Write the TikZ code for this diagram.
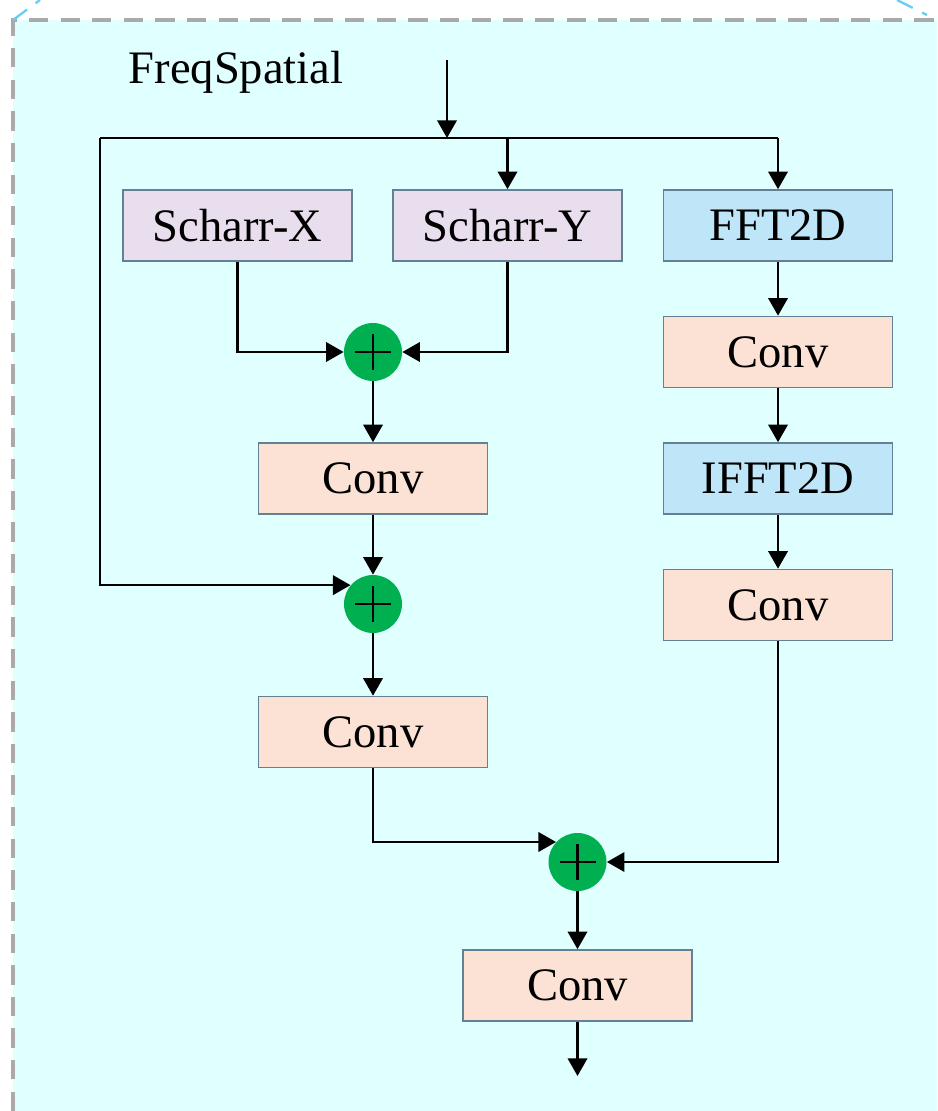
\documentclass[tikz,border=0pt]{standalone}
\usepackage{fontspec}
\setmainfont{Liberation Serif}
\usepackage{tikz}
\usetikzlibrary{arrows.meta,calc,positioning}
\definecolor{bgcyan}{RGB}{224,255,255}
\definecolor{edgegray}{RGB}{170,170,170}
\definecolor{boxedge}{RGB}{100,128,148}
\definecolor{scharrfill}{RGB}{233,222,238}
\definecolor{fftfill}{RGB}{190,230,248}
\definecolor{convfill}{RGB}{251,226,213}
\definecolor{sumgreen}{RGB}{0,176,80}

\begin{document}
\begin{tikzpicture}[x=0.02cm, y=-0.02cm,
  every node/.style={font=\fontsize{26.5}{30}\selectfont},
  blk/.style={draw=boxedge, line width=0.9pt, minimum width=4.58cm, minimum height=1.42cm, inner sep=0pt},
  scharr/.style={blk, fill=scharrfill},
  fftbox/.style={blk, fill=fftfill},
  conv/.style={blk, fill=convfill},
  sumnode/.style={circle, fill=sumgreen, minimum size=1.16cm, inner sep=0pt,
    path picture={\draw[line width=1.3pt] ($(path picture bounding box.center)+(-18,0)$) -- ++(36,0)
      ($(path picture bounding box.center)+(0,-18)$) -- ++(0,36);}},
  arr/.style={line width=1.4pt, -{Triangle[width=11pt, length=10pt]}},
  ln/.style={line width=1.4pt}]
\useasboundingbox (0,0) rectangle (937,1111);
%--- frame ---
\fill[bgcyan] (13,20) rectangle (937,1111);
\draw[edgegray, line width=1.8pt, dash pattern=on 11pt off 7pt] (13,1111) -- (13,20) -- (937,20);
\draw[cyan!60, line width=1.3pt, dash pattern=on 10pt off 6pt] (13,20) -- (40,0);
\draw[cyan!60, line width=1.3pt, dash pattern=on 10pt off 6pt] (897,0) -- (927,15);
\node (title) at (236,72) {FreqSpatial};
%--- spatial branch ---
\node[scharr] (sx) at (237.5,225.5) {Scharr-X};
\node[scharr] (sy) at (507.5,225.5) {Scharr-Y};
\node[sumnode] (p1) at (373,352) {};
\node[conv] (c1) at (373,478.5) {Conv};
\node[sumnode] (p2) at (373,604) {};
\node[conv] (c2) at (373,732) {Conv};
%--- frequency branch ---
\node[fftbox] (fft) at (778,225.5) {FFT2D};
\node[conv] (rc1) at (778,352) {Conv};
\node[fftbox] (ifft) at (778,478.5) {IFFT2D};
\node[conv] (rc2) at (778,605) {Conv};
%--- fusion ---
\node[sumnode] (p3) at (577.5,862) {};
\node[conv] (c3) at (577.5,985.5) {Conv};
% input and bus
\coordinate (in) at (447,60);
\coordinate (busmid) at (447,138);
\coordinate (busL) at (100,138);
\coordinate (busR) at (778,138);
\coordinate (out) at (577.5,1076);
\draw[arr] (in) -- (busmid);
\draw[ln] (busL) -- (busR);
\draw[arr] (sy |- busL) -- (sy);
\draw[arr] (busR) -- (fft);
% scharr sum
\draw[arr] (sx.south) |- (p1);
\draw[arr] (sy.south) |- (p1);
\draw[arr] (p1) -- (c1);
\draw[arr] (c1) -- (p2);
\draw[arr] (busL) |- (p2.140);
\draw[arr] (p2) -- (c2);
% fft chain
\draw[arr] (fft) -- (rc1);
\draw[arr] (rc1) -- (ifft);
\draw[arr] (ifft) -- (rc2);
% merge
\draw[arr] (c2.south) |- (p3.137);
\draw[arr] (rc2.south) |- (p3);
\draw[arr] (p3) -- (c3);
\draw[arr] (c3) -- (out);
\end{tikzpicture}
\end{document}
